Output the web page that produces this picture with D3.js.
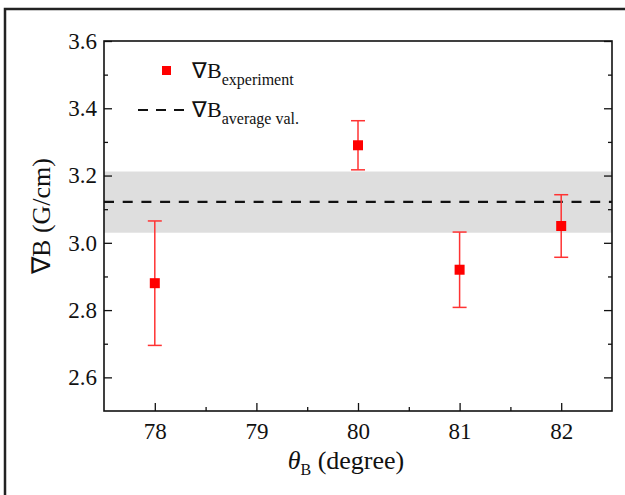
<!DOCTYPE html>
<html lang="en">
<head>
  <meta charset="utf-8" />
  <title>Gradient vs angle</title>
  <script src="https://cdn.jsdelivr.net/npm/d3@7"></script>
  <style>
    body { margin: 0; background: #fff; }
  </style>
</head>
<body>
  <div id="chart"></div>
  <script type="text/javascript">

    // data
    const angles = [78, 80, 81, 82];
    const gradB = [2.88, 3.29, 2.92, 3.05];
    const gradErr = [0.185, 0.073, 0.112, 0.093];
    const avgVal = 3.122;
    const avgBand = [3.03, 3.212];
    const xTicks = [78, 79, 80, 81, 82];
    const yTicks = [2.6, 2.8, 3.0, 3.2, 3.4, 3.6];

    const serif = '"Liberation Serif", "Times New Roman", Times, serif';
    const w = 625;
    const h = 495;
    const margin = {left: 104, right: 13, top: 41, bottom: 84};

    const svg = d3.select("#chart")
                  .append("svg")
                  .attr("width", w)
                  .attr("height", h)
                  .style("font-family", serif);

    // outer frame (runs off the picture to the right and bottom)
    svg.append("rect")
       .attr("x", 5).attr("y", 9)
       .attr("width", 660).attr("height", 520)
       .attr("fill", "none")
       .attr("stroke", "#222")
       .attr("stroke-width", 2.5);

    const x = d3.scaleLinear()
                .domain([77.5, 82.5])
                .range([margin.left, w - margin.right]);
    const y = d3.scaleLinear()
                .domain([2.5, 3.6])
                .range([h - margin.bottom, margin.top]);

    // grey band for the spread of the average
    svg.append("rect")
       .attr("x", x(77.5))
       .attr("y", y(avgBand[1]))
       .attr("width", x(82.5) - x(77.5))
       .attr("height", y(avgBand[0]) - y(avgBand[1]))
       .attr("fill", "#dedede");

    // average line
    svg.append("line")
       .attr("x1", x(77.5)).attr("x2", x(82.5))
       .attr("y1", y(avgVal)).attr("y2", y(avgVal))
       .attr("stroke", "#111")
       .attr("stroke-width", 2.2)
       .attr("stroke-dasharray", "10,8.7");

    // axes, ticks inward
    const xMinor = d3.range(78.5, 82, 1);
    const yMinor = [2.7, 2.9, 3.1, 3.3, 3.5];

    const styleLabels = g => g.selectAll("text")
                               .style("font-family", serif)
                               .style("font-size", "23px")
                               .attr("fill", "#111");

    svg.append("g")
       .attr("transform", `translate(0,${y(2.5)})`)
       .call(d3.axisBottom(x).tickValues(xTicks).tickSize(-8).tickPadding(12).tickFormat(d3.format("d")))
       .call(styleLabels);
    svg.append("g")
       .attr("transform", `translate(0,${y(2.5)})`)
       .call(d3.axisBottom(x).tickValues(xMinor).tickSize(-4).tickFormat(""));

    svg.append("g")
       .attr("transform", `translate(${x(77.5)},0)`)
       .call(d3.axisLeft(y).tickValues(yTicks).tickSize(-8).tickPadding(7).tickFormat(d3.format(".1f")))
       .call(styleLabels);
    svg.append("g")
       .attr("transform", `translate(${x(77.5)},0)`)
       .call(d3.axisLeft(y).tickValues(yMinor).tickSize(-4).tickFormat(""));

    svg.append("g")
       .attr("transform", `translate(${x(82.5)},0)`)
       .call(d3.axisRight(y).tickValues(yTicks).tickSize(-8).tickFormat(""));
    svg.append("g")
       .attr("transform", `translate(${x(82.5)},0)`)
       .call(d3.axisRight(y).tickValues(yMinor).tickSize(-4).tickFormat(""));

    svg.selectAll(".domain").remove();
    svg.selectAll(".tick line").attr("stroke", "#111").attr("stroke-width", 1.3);

    // plot box
    svg.append("rect")
       .attr("x", x(77.5)).attr("y", y(3.6))
       .attr("width", x(82.5) - x(77.5))
       .attr("height", y(2.5) - y(3.6))
       .attr("fill", "none")
       .attr("stroke", "#111")
       .attr("stroke-width", 1.6);

    // error bars
    const pts = angles.map((a, i) => ({a, v: gradB[i], e: gradErr[i]}));
    const err = svg.append("g")
                   .attr("stroke", "#f33")
                   .attr("stroke-width", 1.5);
    err.selectAll("line.v")
       .data(pts).enter().append("line")
       .attr("x1", d => x(d.a)).attr("x2", d => x(d.a))
       .attr("y1", d => y(d.v + d.e)).attr("y2", d => y(d.v - d.e));
    err.selectAll("line.top")
       .data(pts).enter().append("line")
       .attr("x1", d => x(d.a) - 7).attr("x2", d => x(d.a) + 7)
       .attr("y1", d => y(d.v + d.e)).attr("y2", d => y(d.v + d.e));
    err.selectAll("line.bot")
       .data(pts).enter().append("line")
       .attr("x1", d => x(d.a) - 7).attr("x2", d => x(d.a) + 7)
       .attr("y1", d => y(d.v - d.e)).attr("y2", d => y(d.v - d.e));

    // markers
    svg.selectAll("rect.pt")
       .data(pts).enter().append("rect")
       .attr("class", "pt")
       .attr("x", d => x(d.a) - 5)
       .attr("y", d => y(d.v) - 5)
       .attr("width", 10).attr("height", 10)
       .attr("fill", "#ff0000");

    // legend
    const legend = svg.append("g").attr("fill", "#111");
    legend.append("rect")
          .attr("x", 162).attr("y", 66)
          .attr("width", 9).attr("height", 9)
          .attr("fill", "#ff0000");
    const t1 = legend.append("text").attr("x", 192).attr("y", 78).attr("font-size", 22);
    t1.append("tspan").text("∇B");
    t1.append("tspan").attr("font-size", 16).attr("dy", 7).text("experiment");

    legend.append("line")
          .attr("x1", 138).attr("x2", 184)
          .attr("y1", 110).attr("y2", 110)
          .attr("stroke", "#111")
          .attr("stroke-width", 2.2)
          .attr("stroke-dasharray", "10,8");
    const t2 = legend.append("text").attr("x", 192).attr("y", 117).attr("font-size", 22);
    t2.append("tspan").text("∇B");
    t2.append("tspan").attr("font-size", 16).attr("dy", 7).text("average val.");

    // axis titles
    svg.append("text")
       .attr("transform", `translate(50,216) rotate(-90)`)
       .attr("text-anchor", "middle")
       .attr("font-size", 26)
       .attr("fill", "#111")
       .text("∇B (G/cm)");

    const xt = svg.append("text")
                  .attr("x", 346).attr("y", 469)
                  .attr("text-anchor", "middle")
                  .attr("font-size", 26)
                  .attr("fill", "#111");
    xt.append("tspan").attr("font-style", "italic").text("θ");
    xt.append("tspan").attr("font-size", 16).attr("dy", 6).text("B");
    xt.append("tspan").attr("dy", -6).text(" (degree)");

  </script>
</body>
</html>
